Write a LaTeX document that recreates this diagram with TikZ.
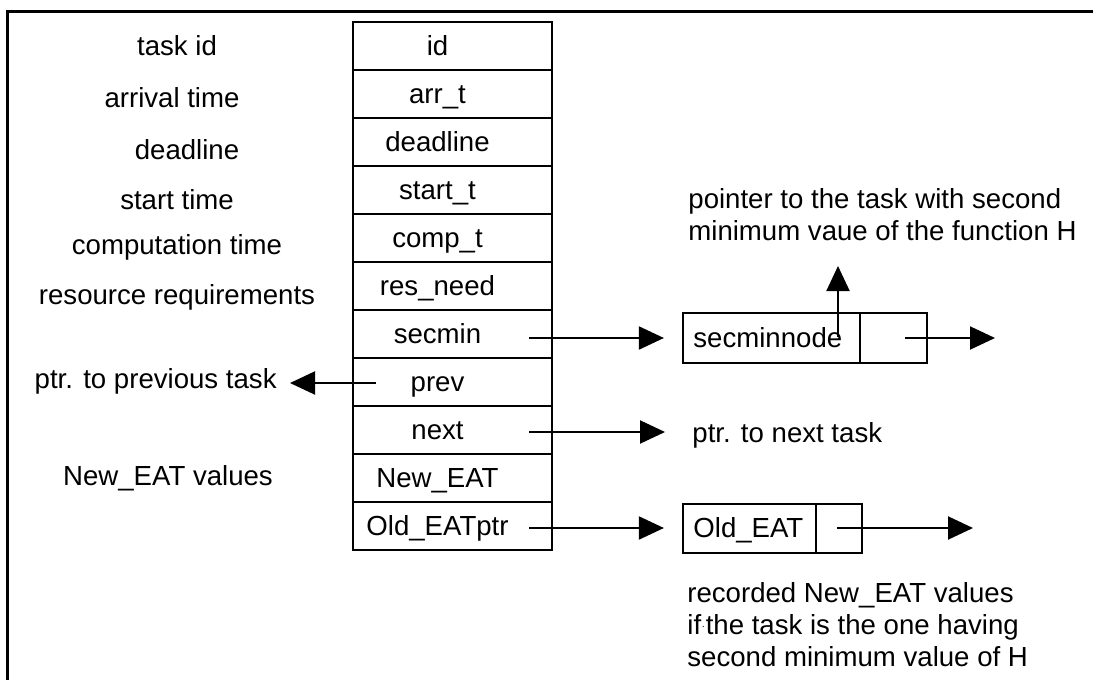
\documentclass[tikz,border=0pt]{standalone}
\usepackage{fontspec}
\setmainfont{Liberation Sans}
\usetikzlibrary{arrows.meta}
\begin{document}
\begin{tikzpicture}[x=0.5pt,y=-0.5pt,
  every node/.style={font=\fontsize{13.8pt}{16pt}\selectfont},
  txt/.style={inner sep=0pt},
  ctxt/.style={inner sep=0pt,text height=10pt,text depth=3pt},
  cell/.style={draw,line width=1.2pt,minimum width=99.5pt,minimum height=24pt,inner sep=0pt},
  boxcell/.style={draw,line width=1.1pt,inner sep=0pt},
  arr/.style={line width=1pt,-{Triangle[length=12.5pt,width=11.5pt]}},
  frame/.style={line width=1.5pt}]
\useasboundingbox (0,0) rectangle (1093,680);
% outer frame (only top and left edges visible)
\coordinate (fTR) at (1093,11);
\coordinate (fTL) at (7,11);
\coordinate (fBL) at (7,680);
\draw[frame] (fTR) -- (fTL) -- (fBL);

% left labels
\node[ctxt] (l1) at (177,48) {task id};
\node[ctxt] (l2) at (172,100) {arrival time};
\node[ctxt] (l3) at (187,152) {deadline};
\node[ctxt] (l4) at (177,202) {start time};
\node[ctxt] (l5) at (177,247) {computation time};
\node[ctxt] (l6) at (177,297) {resource requirements};
\node[ctxt,anchor=east] (l8) at (277,381) {ptr. to previous task};
\node[ctxt] (l10) at (168,478) {New\_EAT values};

% table
\tikzset{lab/.style={label={[ctxt,xshift=-7.5pt,yshift=-1.2pt]center:#1}}}
\node[cell,lab=id] (r1) at (452.5,46) {};
\node[cell,lab=arr\_t] (r2) at (452.5,94) {};
\node[cell,lab=deadline] (r3) at (452.5,142) {};
\node[cell,lab=start\_t] (r4) at (452.5,190) {};
\node[cell,lab=comp\_t] (r5) at (452.5,238) {};
\node[cell,lab=res\_need] (r6) at (452.5,286) {};
\node[cell,lab=secmin] (r7) at (452.5,334) {};
\node[cell,lab=prev] (r8) at (452.5,382) {};
\node[cell,lab=next] (r9) at (452.5,430) {};
\node[cell,lab=New\_EAT] (r10) at (452.5,478) {};
\node[cell,lab=Old\_EATptr] (r11) at (452.5,526) {};

% secminnode record
\node[boxcell,minimum width=88.5pt,minimum height=25pt] (secL) at (771.5,338) {};
\node[ctxt,anchor=west] (secLt) at (693,340) {secminnode};
\node[boxcell,minimum width=33.5pt,minimum height=25pt] (secR) at (893.5,338) {};
\node[txt,anchor=north west,align=left] (ptrsec) at (688,188) {pointer to the task with second\\minimum vaue of the function H};

% next label
\node[ctxt,anchor=west] (nexttxt) at (692,435) {ptr. to next task};

% Old_EAT record
\node[boxcell,minimum width=66.5pt,minimum height=24.5pt] (oldL) at (749.5,528.5) {};
\node[ctxt,anchor=west] (oldLt) at (693,530) {Old\_EAT};
\node[boxcell,minimum width=23pt,minimum height=24.5pt] (oldR) at (839,528.5) {};
\node[txt,anchor=north west,align=left] (rec) at (687,582) {recorded New\_EAT values\\if{\raisebox{0.35ex}{\tiny$\cdot$}}the task is the one having\\second minimum value of H};

% arrow coordinates
\coordinate (s7) at (529,338);
\coordinate (s8) at (376,383);
\coordinate (s9) at (529,432);
\coordinate (s11) at (529,528);
\coordinate (up0) at (838,337);
\coordinate (up1) at (838,266);
\coordinate (secS) at (905,338);
\coordinate (secE) at (995,338);
\coordinate (oldS) at (837,528);
\coordinate (oldE) at (973,528);

% connectors
\draw[arr,shorten >=9pt] (s7) -- (s7 -| secL.west);
\draw[arr,shorten >=6.5pt] (s8) -- (s8 -| l8.east);
\draw[arr,shorten >=13.5pt] (s9) -- (s9 -| nexttxt.west);
\draw[arr,shorten >=9pt] (s11) -- (s11 -| oldL.west);
\draw[arr] (up0) -- (up1);
\draw[arr] (secS) -- (secE);
\draw[arr] (oldS) -- (oldE);
\end{tikzpicture}
\end{document}
